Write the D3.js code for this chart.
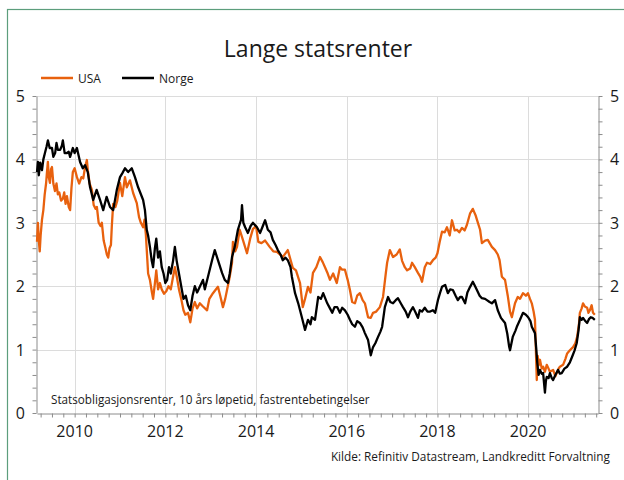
<!DOCTYPE html>
<html><head><meta charset="utf-8">
<script src="https://cdn.jsdelivr.net/npm/d3@7"></script>
<style>body{margin:0;background:#fff}svg{display:block}text{font-family:"Open Sans",sans-serif;fill:#1a1a1a}</style>
</head><body><svg id="c" width="624" height="480"></svg>
<script>
const title = "Lange statsrenter";
const seriesNames = ["USA", "Norge"];
const seriesColors = ["#e8610e", "#000000"];
const xTickYears = [2010, 2012, 2014, 2016, 2018, 2020];
const yTicks = [0, 1, 2, 3, 4, 5];
const note = "Statsobligasjonsrenter, 10 års løpetid, fastrentebetingelser";
const source = "Kilde: Refinitiv Datastream, Landkreditt Forvaltning";

// decimal year, yield (%)
const usaData = [[2009.17,2.70],[2009.19,3.00],[2009.21,2.72],[2009.23,2.55],[2009.25,2.80],[2009.28,3.05],[2009.31,3.20],[2009.34,3.45],[2009.37,3.62],[2009.39,3.80],[2009.41,3.96],[2009.43,3.72],[2009.455,3.63],[2009.48,3.85],[2009.50,3.88],[2009.53,3.62],[2009.566,3.50],[2009.60,3.62],[2009.63,3.45],[2009.66,3.48],[2009.70,3.35],[2009.74,3.38],[2009.77,3.48],[2009.80,3.30],[2009.83,3.42],[2009.87,3.25],[2009.90,3.20],[2009.93,3.55],[2009.96,3.80],[2010.00,3.86],[2010.05,3.72],[2010.10,3.62],[2010.15,3.72],[2010.19,3.70],[2010.23,3.88],[2010.27,3.99],[2010.29,3.83],[2010.33,3.62],[2010.38,3.52],[2010.42,3.28],[2010.46,3.22],[2010.49,3.25],[2010.53,3.00],[2010.57,2.95],[2010.60,3.00],[2010.64,2.72],[2010.68,2.60],[2010.71,2.50],[2010.74,2.45],[2010.77,2.60],[2010.80,2.65],[2010.82,2.95],[2010.85,3.30],[2010.90,3.25],[2010.94,3.35],[2011.00,3.63],[2011.05,3.42],[2011.11,3.72],[2011.15,3.56],[2011.22,3.67],[2011.29,3.47],[2011.37,3.31],[2011.42,3.09],[2011.46,3.00],[2011.51,2.93],[2011.54,3.05],[2011.57,2.82],[2011.60,2.45],[2011.62,2.20],[2011.66,2.10],[2011.70,1.92],[2011.73,1.80],[2011.77,2.05],[2011.80,2.25],[2011.84,1.95],[2011.88,2.05],[2011.92,1.95],[2011.97,1.88],[2012.02,1.92],[2012.07,2.00],[2012.12,1.95],[2012.17,2.15],[2012.21,2.30],[2012.26,2.12],[2012.30,1.95],[2012.35,1.80],[2012.40,1.62],[2012.44,1.55],[2012.50,1.58],[2012.55,1.43],[2012.60,1.65],[2012.65,1.75],[2012.70,1.65],[2012.76,1.73],[2012.83,1.68],[2012.92,1.62],[2012.97,1.80],[2013.05,1.89],[2013.16,1.99],[2013.21,1.85],[2013.27,1.67],[2013.32,1.80],[2013.36,1.94],[2013.42,2.15],[2013.47,2.37],[2013.49,2.70],[2013.54,2.55],[2013.58,2.62],[2013.64,2.89],[2013.71,2.73],[2013.80,2.52],[2013.87,2.75],[2013.93,2.90],[2014.00,2.95],[2014.05,2.70],[2014.12,2.68],[2014.20,2.72],[2014.30,2.62],[2014.38,2.55],[2014.46,2.54],[2014.53,2.50],[2014.59,2.46],[2014.70,2.57],[2014.81,2.29],[2014.88,2.25],[2014.97,2.05],[2015.03,1.67],[2015.08,1.80],[2015.145,1.99],[2015.20,1.90],[2015.255,2.21],[2015.33,2.30],[2015.41,2.46],[2015.47,2.38],[2015.52,2.30],[2015.58,2.20],[2015.63,2.10],[2015.70,2.20],[2015.78,2.05],[2015.85,2.30],[2015.90,2.26],[2015.96,2.26],[2016.02,2.10],[2016.07,1.94],[2016.12,1.75],[2016.18,1.73],[2016.23,1.85],[2016.29,1.89],[2016.35,1.78],[2016.40,1.73],[2016.47,1.51],[2016.53,1.50],[2016.58,1.58],[2016.65,1.60],[2016.73,1.67],[2016.80,1.83],[2016.86,2.20],[2016.89,2.37],[2016.95,2.57],[2017.02,2.46],[2017.10,2.50],[2017.17,2.58],[2017.22,2.40],[2017.28,2.30],[2017.33,2.25],[2017.40,2.28],[2017.44,2.37],[2017.50,2.30],[2017.57,2.21],[2017.62,2.15],[2017.66,2.07],[2017.72,2.30],[2017.77,2.37],[2017.84,2.35],[2017.90,2.41],[2017.96,2.45],[2018.00,2.52],[2018.05,2.70],[2018.10,2.86],[2018.16,2.85],[2018.21,2.93],[2018.27,2.80],[2018.32,3.04],[2018.38,2.88],[2018.43,2.89],[2018.48,2.85],[2018.54,2.92],[2018.60,2.88],[2018.65,2.97],[2018.72,3.15],[2018.78,3.22],[2018.84,3.12],[2018.87,3.05],[2018.94,2.89],[2018.98,2.68],[2019.05,2.72],[2019.11,2.73],[2019.20,2.62],[2019.27,2.57],[2019.33,2.50],[2019.37,2.41],[2019.42,2.15],[2019.49,2.10],[2019.55,1.85],[2019.60,1.60],[2019.64,1.51],[2019.71,1.73],[2019.77,1.83],[2019.82,1.80],[2019.885,1.89],[2019.95,1.85],[2019.995,1.89],[2020.04,1.80],[2020.08,1.73],[2020.12,1.60],[2020.15,1.47],[2020.17,1.00],[2020.19,0.52],[2020.21,0.90],[2020.23,0.75],[2020.26,0.84],[2020.30,0.70],[2020.33,0.73],[2020.37,0.65],[2020.41,0.76],[2020.45,0.70],[2020.48,0.65],[2020.55,0.68],[2020.60,0.58],[2020.63,0.63],[2020.67,0.70],[2020.70,0.73],[2020.77,0.76],[2020.82,0.85],[2020.86,0.94],[2020.92,0.99],[2020.99,1.04],[2021.04,1.10],[2021.08,1.20],[2021.12,1.40],[2021.14,1.58],[2021.18,1.65],[2021.21,1.73],[2021.25,1.68],[2021.30,1.66],[2021.33,1.58],[2021.36,1.62],[2021.40,1.70],[2021.43,1.58],[2021.47,1.55]];

const norgeData = [[2009.17,3.80],[2009.19,3.96],[2009.21,3.75],[2009.24,3.95],[2009.28,3.83],[2009.31,4.00],[2009.345,4.10],[2009.38,4.20],[2009.41,4.30],[2009.45,4.18],[2009.50,4.18],[2009.53,4.04],[2009.57,4.10],[2009.60,4.26],[2009.63,4.15],[2009.68,4.15],[2009.72,4.22],[2009.74,4.30],[2009.78,4.10],[2009.83,4.10],[2009.87,4.12],[2009.90,4.04],[2009.96,4.18],[2010.00,4.10],[2010.05,4.18],[2010.12,3.96],[2010.18,3.86],[2010.23,3.91],[2010.29,3.80],[2010.34,3.56],[2010.41,3.36],[2010.485,3.52],[2010.56,3.36],[2010.63,3.20],[2010.705,3.41],[2010.78,3.25],[2010.85,3.20],[2010.93,3.52],[2011.00,3.72],[2011.05,3.78],[2011.11,3.86],[2011.18,3.80],[2011.26,3.86],[2011.33,3.72],[2011.40,3.56],[2011.51,3.36],[2011.55,3.20],[2011.59,2.89],[2011.62,2.80],[2011.66,2.62],[2011.70,2.40],[2011.73,2.30],[2011.77,2.60],[2011.80,2.75],[2011.84,2.45],[2011.88,2.55],[2011.92,2.30],[2011.96,2.20],[2012.00,2.05],[2012.04,2.10],[2012.08,2.30],[2012.12,2.20],[2012.17,2.40],[2012.21,2.62],[2012.25,2.40],[2012.30,2.20],[2012.35,2.00],[2012.40,1.80],[2012.45,1.85],[2012.50,1.70],[2012.55,1.62],[2012.60,1.85],[2012.65,2.00],[2012.70,1.90],[2012.76,1.99],[2012.83,2.10],[2012.87,1.95],[2012.94,2.15],[2013.03,2.41],[2013.09,2.57],[2013.16,2.41],[2013.25,2.21],[2013.31,2.10],[2013.38,2.05],[2013.42,2.20],[2013.47,2.46],[2013.53,2.62],[2013.60,2.89],[2013.67,3.05],[2013.69,3.28],[2013.72,3.00],[2013.76,2.93],[2013.82,2.84],[2013.88,2.95],[2013.93,3.00],[2014.02,2.93],[2014.09,2.84],[2014.15,2.95],[2014.20,3.04],[2014.26,2.89],[2014.32,2.85],[2014.37,2.73],[2014.43,2.65],[2014.48,2.57],[2014.54,2.50],[2014.59,2.41],[2014.65,2.45],[2014.70,2.41],[2014.76,2.30],[2014.79,2.15],[2014.86,1.89],[2014.93,1.73],[2015.01,1.51],[2015.08,1.31],[2015.145,1.47],[2015.20,1.40],[2015.23,1.51],[2015.30,1.47],[2015.37,1.83],[2015.43,1.80],[2015.48,1.89],[2015.57,1.73],[2015.63,1.65],[2015.68,1.58],[2015.73,1.67],[2015.79,1.67],[2015.85,1.58],[2015.90,1.66],[2015.96,1.62],[2016.02,1.55],[2016.07,1.47],[2016.12,1.40],[2016.18,1.36],[2016.23,1.45],[2016.29,1.42],[2016.35,1.35],[2016.40,1.26],[2016.47,1.15],[2016.53,0.91],[2016.58,1.04],[2016.63,1.10],[2016.69,1.20],[2016.74,1.28],[2016.78,1.36],[2016.84,1.67],[2016.91,1.83],[2016.96,1.75],[2017.02,1.73],[2017.08,1.78],[2017.13,1.81],[2017.20,1.72],[2017.24,1.67],[2017.30,1.60],[2017.35,1.51],[2017.40,1.60],[2017.46,1.67],[2017.52,1.58],[2017.57,1.50],[2017.61,1.62],[2017.66,1.60],[2017.72,1.66],[2017.78,1.60],[2017.84,1.60],[2017.90,1.62],[2017.95,1.58],[2018.01,1.78],[2018.06,1.90],[2018.10,1.99],[2018.17,2.02],[2018.23,1.89],[2018.28,1.95],[2018.34,1.94],[2018.40,1.85],[2018.45,1.78],[2018.50,1.83],[2018.54,1.83],[2018.61,1.73],[2018.66,1.90],[2018.72,1.99],[2018.78,2.07],[2018.83,2.00],[2018.87,1.94],[2018.93,1.85],[2018.98,1.81],[2019.05,1.80],[2019.09,1.78],[2019.15,1.75],[2019.20,1.73],[2019.27,1.78],[2019.33,1.62],[2019.40,1.50],[2019.49,1.42],[2019.54,1.25],[2019.58,1.05],[2019.60,0.99],[2019.66,1.20],[2019.72,1.30],[2019.75,1.36],[2019.82,1.47],[2019.885,1.58],[2019.95,1.55],[2020.00,1.51],[2020.05,1.45],[2020.08,1.36],[2020.15,1.26],[2020.18,1.00],[2020.20,0.80],[2020.23,0.60],[2020.26,0.68],[2020.30,0.62],[2020.33,0.63],[2020.37,0.32],[2020.39,0.50],[2020.41,0.57],[2020.45,0.55],[2020.48,0.63],[2020.52,0.55],[2020.55,0.52],[2020.60,0.60],[2020.66,0.68],[2020.70,0.62],[2020.74,0.63],[2020.80,0.70],[2020.86,0.73],[2020.92,0.80],[2020.965,0.88],[2021.02,0.98],[2021.07,1.10],[2021.11,1.30],[2021.14,1.51],[2021.18,1.47],[2021.21,1.50],[2021.26,1.45],[2021.30,1.42],[2021.34,1.48],[2021.38,1.51],[2021.42,1.50],[2021.47,1.47]];

const svg = d3.select("#c");
const L = 37, R = 598, T = 96, B = 413;
const x = d3.scaleLinear().domain([2009.17, 2021.54]).range([L, R]);
const y = d3.scaleLinear().domain([0, 5]).range([B, T]);

// outer frame
svg.append("rect").attr("x", 7.5).attr("y", 9.5).attr("width", 700).attr("height", 600)
  .attr("fill", "none").attr("stroke", "#5c9e7c").attr("stroke-width", 1.2);

// grid
svg.append("g").selectAll("line").data(yTicks.slice(1)).join("line")
  .attr("x1", L).attr("x2", R).attr("y1", d => Math.round(y(d)) + 0.5).attr("y2", d => Math.round(y(d)) + 0.5)
  .attr("stroke", "#dcdcdc");
svg.append("g").selectAll("line").data(xTickYears).join("line")
  .attr("y1", T).attr("y2", B).attr("x1", d => Math.round(x(d)) + 0.5).attr("x2", d => Math.round(x(d)) + 0.5)
  .attr("stroke", "#dcdcdc");

// axes
const quarters = d3.range(2009.25, 2021.54, 0.25);
const minorY = d3.range(0, 5.001, 0.2);
const axStyle = g => { g.selectAll("path,line").attr("stroke", "#8c8c8c"); g.selectAll("text").remove(); };
svg.append("g").attr("transform", `translate(0,${B + 0.5})`)
  .call(d3.axisBottom(x).tickValues(quarters).tickSize(4).tickSizeOuter(0)).call(axStyle);
svg.append("g").attr("transform", `translate(${L - 0.5},0)`)
  .call(d3.axisLeft(y).tickValues(minorY).tickSize(4).tickSizeOuter(0)).call(axStyle);
svg.append("g").attr("transform", `translate(${R + 0.5},0)`)
  .call(d3.axisRight(y).tickValues(minorY).tickSize(4).tickSizeOuter(0)).call(axStyle);

// labels
svg.append("g").selectAll("text").data(xTickYears).join("text")
  .attr("x", d => x(d)).attr("y", 437).attr("text-anchor", "middle").attr("font-size", 16).text(d => d);
svg.append("g").selectAll("text").data(yTicks).join("text")
  .attr("x", 25).attr("y", d => y(d) + 6).attr("text-anchor", "end").attr("font-size", 16).text(d => d);
svg.append("g").selectAll("text").data(yTicks).join("text")
  .attr("x", 610).attr("y", d => y(d) + 6).attr("text-anchor", "start").attr("font-size", 16).text(d => d);

// lines
const line = d3.line().x(d => x(d[0])).y(d => y(d[1]));
[usaData, norgeData].forEach((data, i) => {
  svg.append("path").datum(data).attr("d", line).attr("fill", "none")
    .attr("stroke", seriesColors[i]).attr("stroke-width", 2.3).attr("stroke-linejoin", "round");
});

// title
svg.append("text").attr("x", 318).attr("y", 57).attr("text-anchor", "middle").attr("font-size", 23).text(title);

// legend
const legX = [41, 122];
seriesNames.forEach((n, i) => {
  svg.append("line").attr("x1", legX[i]).attr("x2", legX[i] + 32).attr("y1", 78).attr("y2", 78)
    .attr("stroke", seriesColors[i]).attr("stroke-width", 2.5);
  svg.append("text").attr("x", legX[i] + 37).attr("y", 82.5).attr("font-size", 12).text(n);
});

svg.append("text").attr("x", 51).attr("y", 404).attr("font-size", 11.7).text(note);
svg.append("text").attr("x", 610).attr("y", 461).attr("text-anchor", "end").attr("font-size", 11.8).text(source);
</script></body></html>
